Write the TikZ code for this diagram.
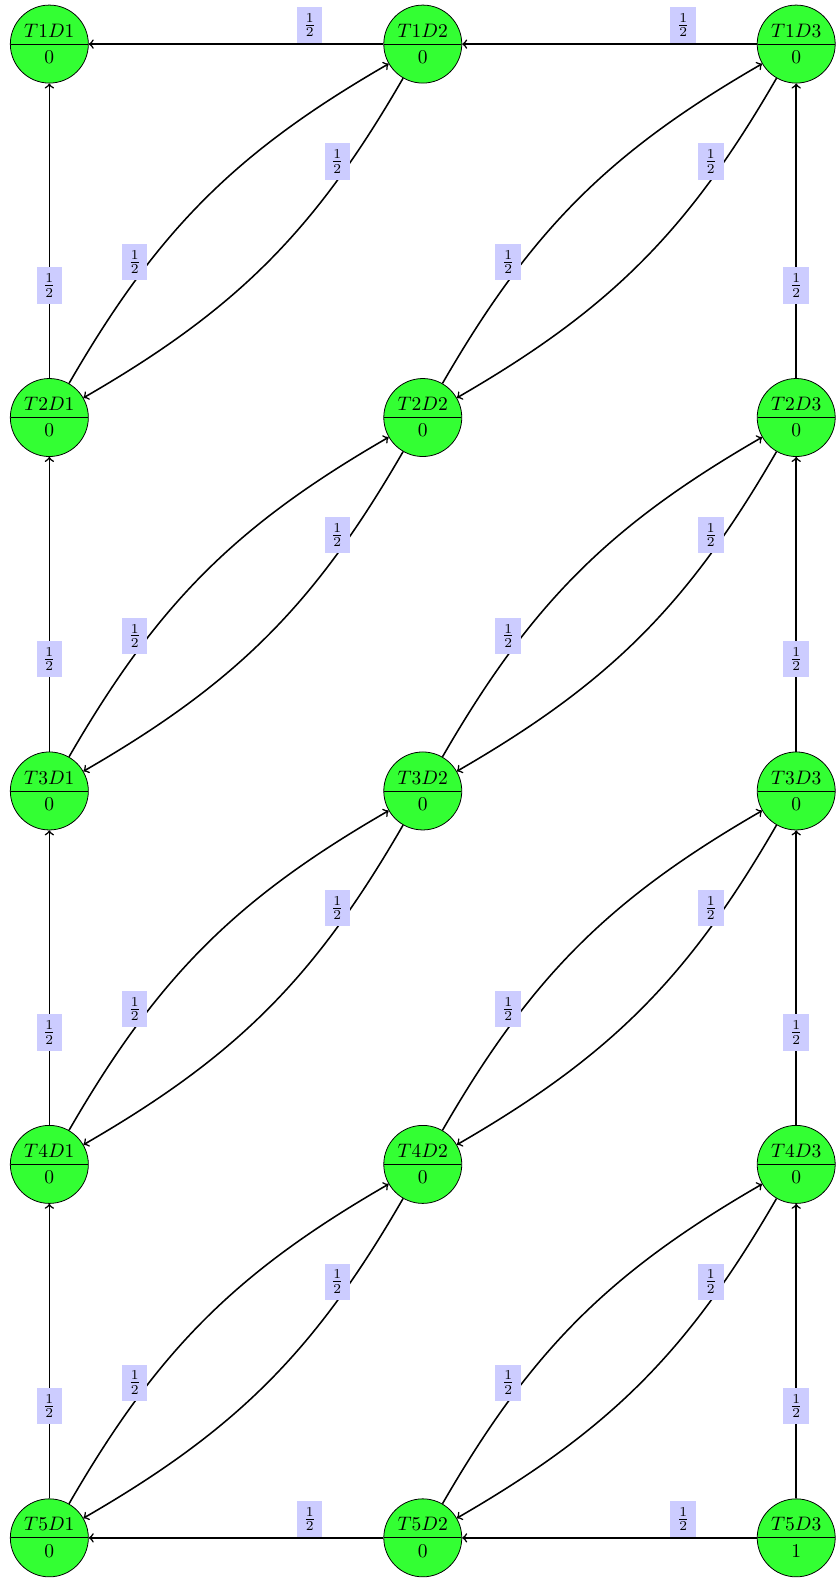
\documentclass[tikz,border=0pt]{standalone}
\usetikzlibrary{shapes.multipart}
\begin{document}
\begin{tikzpicture}[x=1pt,y=1pt,
  state/.style={circle split, draw, fill=green!80, minimum size=40pt, inner xsep=1pt, inner ysep=3.33pt},
  lab/.style={fill=blue!20, above, near start},
  conn/.style={->, thick}]
\useasboundingbox (-25.3,22.6) rectangle (403,-786.6);
\def\gs{191.5}
\foreach \r in {1,...,5}{
  \foreach \c in {1,2,3}{
    \pgfmathsetmacro{\xx}{(\c-1)*\gs}
    \pgfmathsetmacro{\yy}{-(\r-1)*\gs}
    \ifnum\r=5 \ifnum\c=3 \def\val{1}\else\def\val{0}\fi\else\def\val{0}\fi
    \node[state] (T\r D\c) at (\xx,\yy) {$T\r D\c$ \nodepart{lower} $\val$};
  }
}
% horizontal edges
\draw[conn] (T1D2) -- node[lab]{$\frac{1}{2}$} (T1D1);
\draw[conn] (T1D3) -- node[lab]{$\frac{1}{2}$} (T1D2);
\draw[conn] (T5D2) -- node[lab]{$\frac{1}{2}$} (T5D1);
\draw[conn] (T5D3) -- node[lab]{$\frac{1}{2}$} (T5D2);
% vertical and diagonal edges
\foreach \r [evaluate=\r as \s using int(\r+1)] in {1,...,4}{
  \draw[conn] (T\s D1) -- node[lab]{$\frac{1}{2}$} (T\r D1);
  \draw[conn] (T\s D3) -- node[lab]{$\frac{1}{2}$} (T\r D3);
  \draw[conn] (T\s D1) to[bend left=15] node[lab]{$\frac{1}{2}$} (T\r D2);
  \draw[conn] (T\r D2) to[bend left=15] node[lab]{$\frac{1}{2}$} (T\s D1);
  \draw[conn] (T\s D2) to[bend left=15] node[lab]{$\frac{1}{2}$} (T\r D3);
  \draw[conn] (T\r D3) to[bend left=15] node[lab]{$\frac{1}{2}$} (T\s D2);
}
\end{tikzpicture}
\end{document}
